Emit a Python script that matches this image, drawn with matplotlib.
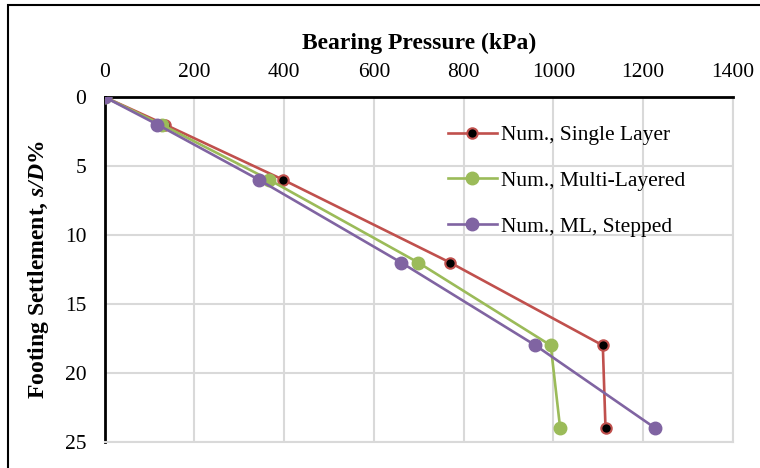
import matplotlib
matplotlib.use('Agg')
import matplotlib.pyplot as plt

plt.rcParams['font.family'] = 'Liberation Serif'
plt.rcParams['mathtext.fontset'] = 'custom'
plt.rcParams['mathtext.rm'] = 'Liberation Serif'
plt.rcParams['mathtext.it'] = 'Liberation Serif:italic'
plt.rcParams['mathtext.bf'] = 'Liberation Serif:bold'
plt.rcParams['mathtext.bfit'] = 'Liberation Serif:italic:bold'

# settlement s/D (%)
settlement = [0, 2, 6, 12, 18, 24]
# bearing pressure (kPa)
single_layer = [0, 135, 398, 770, 1110, 1116]
multi_layered = [0, 127, 367, 699, 994, 1015]
ml_stepped = [0, 118, 344, 661, 960, 1227]

red = '#C0504D'
green = '#9BBB59'
purple = '#8064A2'

fig = plt.figure(figsize=(7.6, 4.68), dpi=100)
ax = fig.add_axes([104.5/760, 1-442/468, (733-104.5)/760, (442-97)/468])

ax.plot(single_layer, settlement, color=red, lw=1.9, marker='o', ms=7.5,
        mfc='black', mec=red, mew=1.5, label='Num., Single Layer', zorder=3)
ax.plot(multi_layered, settlement, color=green, lw=1.9, marker='o', ms=9,
        mfc=green, mec=green, label='Num., Multi-Layered', zorder=3)
ax.plot(ml_stepped, settlement, color=purple, lw=1.9, marker='o', ms=9,
        mfc=purple, mec=purple, label='Num., ML, Stepped', zorder=3)

ax.set_xlim(0, 1400)
ax.set_ylim(25, 0)
ax.set_xticks(range(0, 1401, 200))
ax.set_yticks(range(0, 26, 5))
ax.xaxis.tick_top()
ax.xaxis.set_label_position('top')
ax.tick_params(length=0, labelsize=15.5)
ax.tick_params(axis='x', pad=11)
ax.tick_params(axis='y', pad=13)
ax.grid(True, color='#D9D9D9', lw=1.5)
ax.set_axisbelow(True)
for side in ['right', 'bottom']:
    ax.spines[side].set_color('#D9D9D9')
    ax.spines[side].set_linewidth(1.5)
for side in ['left', 'top']:
    ax.spines[side].set_color('black')
    ax.spines[side].set_linewidth(2)

ax.set_xlabel('Bearing Pressure (kPa)', fontsize=17, fontweight='bold', labelpad=10)
ax.set_ylabel(r'Footing Settlement, $\mathbfit{s/D}$%', fontsize=17,
              fontweight='bold', labelpad=10)

leg = ax.legend(loc='upper left', bbox_to_anchor=(0.515, 0.975), frameon=False,
                fontsize=15.5, handlelength=2.3, labelspacing=1.2,
                handletextpad=0.2)

# outer chart border
fig.patches.append(plt.Rectangle((8/760, -0.01), 1.0, 1-5/468+0.01,
                                 transform=fig.transFigure, fill=False,
                                 edgecolor='black', lw=1.5))

fig.savefig('out.png', dpi=100)
